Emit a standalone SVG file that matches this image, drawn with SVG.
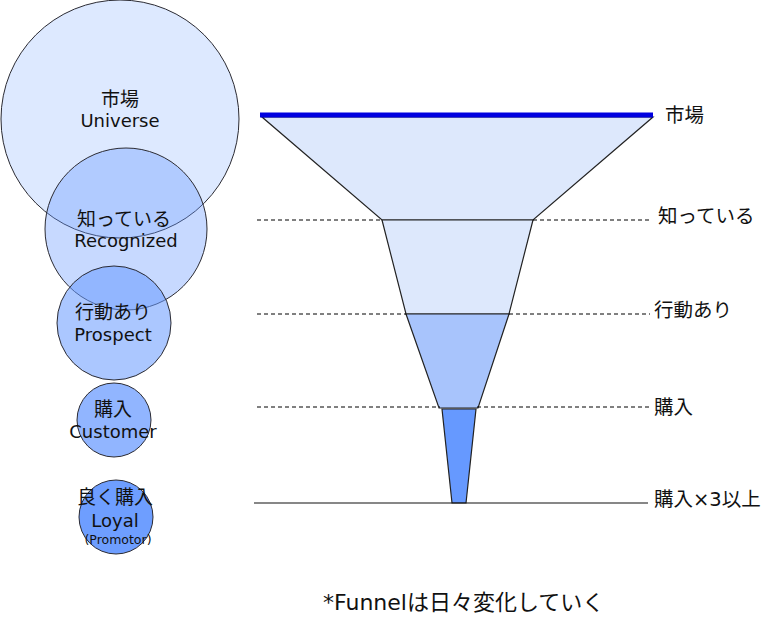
<svg xmlns="http://www.w3.org/2000/svg" width="780" height="633" viewBox="0 0 780 633">
<style>
.c{stroke:#2b2b33;stroke-width:1}
.t{font-family:"DejaVu Sans","Noto Sans CJK JP",sans-serif;font-size:18px;fill:#111;text-anchor:middle}
.r{font-family:"DejaVu Sans","Noto Sans CJK JP",sans-serif;font-size:19.5px;fill:#111}
.f{stroke:#222;stroke-width:1.2}
.d{stroke:#000;stroke-width:1;stroke-dasharray:4,3;fill:none}
</style>
<rect width="780" height="633" fill="#fff"/>
<g id="universe">
<circle class="c" cx="120" cy="119" r="119" fill="#6699ff" fill-opacity="0.22"/>
<text class="t" x="120" y="106" style="font-size:19px">市場</text>
<text class="t" x="120" y="127">Universe</text>
</g>
<g id="recognized">
<circle class="c" cx="126" cy="229" r="81" fill="#6699ff" fill-opacity="0.37"/>
<text class="t" x="124" y="226" style="font-size:19px">知っている</text>
<text class="t" x="126" y="247">Recognized</text>
</g>
<g id="prospect">
<circle class="c" cx="114" cy="323" r="57" fill="#6699ff" fill-opacity="0.55"/>
<text class="t" x="113" y="319" style="font-size:19px">行動あり</text>
<text class="t" x="113" y="341">Prospect</text>
</g>
<g id="customer">
<circle class="c" cx="114" cy="420" r="37" fill="#6699ff" fill-opacity="0.72"/>
<text class="t" x="113" y="416" style="font-size:19px">購入</text>
<text class="t" x="113" y="438">Customer</text>
</g>
<g id="loyal">
<circle class="c" cx="116" cy="517" r="37" fill="#6699ff" fill-opacity="0.95"/>
<text class="t" x="115" y="504" style="font-size:19px">良く購入</text>
<text class="t" x="115" y="527">Loyal</text>
<text class="t" x="118" y="544" style="font-size:12.5px">(Promotor)</text>
</g>
<g id="funnel">
<polygon class="f" points="262,117 653,117 533,220 382,220" fill="#dde8fc"/>
<polygon class="f" points="382,220 533,220 509,314 406,314" fill="#dde8fc"/>
<polygon class="f" points="406,314 509,314 478,408 439,408" fill="#a8c4fc"/>
<polygon class="f" points="442,409 476,409 466,503 452,503" fill="#6699ff"/>
<line x1="260" y1="115" x2="653" y2="115" stroke="#0000e0" stroke-width="5"/>
</g>
<g id="connectors">
<line class="d" x1="257" y1="220" x2="382" y2="220"/>
<line class="d" x1="533" y1="220" x2="652" y2="220"/>
<line class="d" x1="257" y1="314" x2="406" y2="314"/>
<line class="d" x1="509" y1="314" x2="650" y2="314"/>
<line class="d" x1="257" y1="407" x2="440" y2="407"/>
<line class="d" x1="477" y1="407" x2="650" y2="407"/>
<line x1="254" y1="503" x2="648" y2="503" stroke="#111" stroke-width="1.2"/>
</g>
<g id="labels">
<text class="r" x="665" y="122">市場</text>
<text class="r" x="658" y="223">知っている</text>
<text class="r" x="654" y="317">行動あり</text>
<text class="r" x="654" y="414">購入</text>
<text class="r" x="654" y="506">購入×3以上</text>
<text class="r" x="323" y="610" style="font-size:22px">*Funnelは日々変化していく</text>
</g>
</svg>
